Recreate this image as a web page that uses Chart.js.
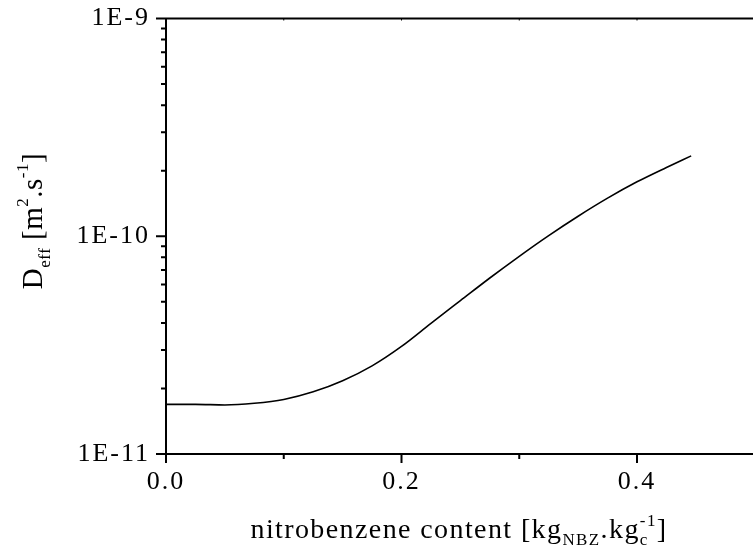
<!DOCTYPE html>
<html>
<head>
<meta charset="utf-8">
<script src="https://cdn.jsdelivr.net/npm/chart.js@4.4.1/dist/chart.umd.min.js"></script>
<style>
  html, body { margin: 0; padding: 0; background: #fff; overflow: hidden; }
  #wrap { width: 770px; height: 555px; }
</style>
</head>
<body>
<div id="wrap"><canvas id="chart" width="770" height="555"></canvas></div>
<script>
// nitrobenzene content [kg_NBZ / kg_c]
const nbzContent = [0, 0.025, 0.05, 0.075, 0.1, 0.125, 0.15, 0.175, 0.2, 0.225,
  0.25, 0.275, 0.3, 0.325, 0.35, 0.375, 0.4, 0.425, 0.446];
// effective diffusivity [m2/s]
const deffValues = [1.69e-11, 1.69e-11, 1.68e-11, 1.71e-11, 1.78e-11, 1.93e-11, 2.17e-11,
  2.54e-11, 3.12e-11, 3.98e-11, 5.06e-11, 6.43e-11, 8.09e-11, 1.007e-10, 1.236e-10,
  1.496e-10, 1.778e-10, 2.07e-10, 2.34e-10];

const xMajorTicks = [0, 0.2, 0.4];
const xMinorTicks = [0.1, 0.3];
const xTickLabels = ['0.0', '0.2', '0.4'];
const yMajorTicks = [1e-11, 1e-10, 1e-9];
const yTickLabels = ['1E-11', '1E-10', '1E-9'];
const yMinorFactors = [2, 3, 4, 5, 6, 7, 8, 9];

const SERIF = '"Liberation Serif", "Times New Roman", serif';

// pieces: [text, sizePx, baselineShift, noAdvance]
function drawPieces(ctx, pieces, x, y) {
  let cx = x;
  pieces.forEach(p => {
    ctx.font = p[1] + 'px ' + SERIF;
    ctx.fillText(p[0], cx, y + p[2]);
    if (!p[3]) cx += ctx.measureText(p[0]).width;
  });
}
function measurePieces(ctx, pieces) {
  let w = 0;
  pieces.forEach(p => {
    ctx.font = p[1] + 'px ' + SERIF;
    if (!p[3]) w += ctx.measureText(p[0]).width;
  });
  return w;
}

const frame = {
  id: 'frame',
  beforeDraw(chart) {
    chart.ctx.letterSpacing = '2px';
  },
  afterDraw(chart) {
    const { ctx, chartArea: a, scales } = chart;
    const xs = scales.x, ys = scales.y;
    ctx.save();
    ctx.strokeStyle = '#000';
    ctx.lineWidth = 2;
    // top border
    ctx.beginPath();
    ctx.moveTo(a.left, a.top);
    ctx.lineTo(a.right, a.top);
    ctx.stroke();

    ctx.beginPath();
    // y ticks, outward
    yMajorTicks.forEach(v => {
      const py = ys.getPixelForValue(v);
      ctx.moveTo(a.left - 10, py); ctx.lineTo(a.left, py);
    });
    yMajorTicks.slice(0, -1).forEach(v => {
      yMinorFactors.forEach(f => {
        const py = ys.getPixelForValue(v * f);
        ctx.moveTo(a.left - 5, py); ctx.lineTo(a.left, py);
      });
    });
    // x ticks, outward
    xMajorTicks.forEach(v => {
      const px = xs.getPixelForValue(v);
      ctx.moveTo(px, a.bottom); ctx.lineTo(px, a.bottom + 9);
    });
    xMinorTicks.forEach(v => {
      const px = xs.getPixelForValue(v);
      ctx.moveTo(px, a.bottom); ctx.lineTo(px, a.bottom + 5);
    });
    ctx.stroke();
    // small top ticks
    ctx.lineWidth = 1;
    ctx.beginPath();
    xMajorTicks.concat(xMinorTicks).forEach(v => {
      const px = xs.getPixelForValue(v);
      ctx.moveTo(px, a.top); ctx.lineTo(px, a.top + 2);
    });
    ctx.stroke();

    // axis titles
    ctx.fillStyle = '#000';
    ctx.textBaseline = 'alphabetic';
    ctx.textAlign = 'left';
    ctx.letterSpacing = '1.4px';
    const xTitle = [
      ['nitrobenzene content [kg', 28, 0],
      ['NBZ', 17, 7],
      ['.kg', 28, 0],
      ['c', 17, 7, true],
      ['-1', 17, -12],
      [']', 28, 0]
    ];
    const xw = measurePieces(ctx, xTitle);
    drawPieces(ctx, xTitle, 459 - xw / 2, 538);

    ctx.letterSpacing = '0.5px';
    const yTitle = [
      ['D', 29, 0],
      ['eff', 17, 8],
      [' [m', 29, 0],
      ['2', 17, -14],
      ['.s', 29, 0],
      ['-1', 17, -14],
      [']', 29, 0]
    ];
    const yw = measurePieces(ctx, yTitle);
    ctx.translate(41.5, 221);
    ctx.rotate(-Math.PI / 2);
    drawPieces(ctx, yTitle, -yw / 2, 0);
    ctx.restore();
  }
};

new Chart(document.getElementById('chart'), {
  type: 'line',
  data: {
    datasets: [{
      data: nbzContent.map((x, i) => ({ x: x, y: deffValues[i] })),
      borderColor: '#000',
      borderWidth: 1.6,
      pointRadius: 0,
      fill: false,
      cubicInterpolationMode: 'monotone'
    }]
  },
  options: {
    responsive: false,
    devicePixelRatio: 1,
    animation: false,
    layout: { padding: { left: 0, top: 18.5, right: 15.25, bottom: 0 } },
    plugins: { legend: { display: false }, tooltip: { enabled: false } },
    scales: {
      x: {
        type: 'linear',
        min: 0,
        max: 0.5,
        afterFit: s => { s.height = 101; s.paddingLeft = 0; s.paddingRight = 0; },
        afterBuildTicks: s => { s.ticks = xMajorTicks.map(v => ({ value: v })); },
        grid: { drawOnChartArea: false, drawTicks: false },
        border: { display: true, color: '#000', width: 2 },
        ticks: {
          color: '#000',
          padding: 13,
          maxRotation: 0,
          font: { family: SERIF, size: 26 },
          callback: (v) => xTickLabels[xMajorTicks.indexOf(v)]
        }
      },
      y: {
        type: 'logarithmic',
        min: 1e-11,
        max: 1e-9,
        afterFit: s => { s.width = 166; s.paddingTop = 0; s.paddingBottom = 0; },
        afterBuildTicks: s => { s.ticks = yMajorTicks.map(v => ({ value: v })); },
        grid: { drawOnChartArea: false, drawTicks: false },
        border: { display: true, color: '#000', width: 2 },
        ticks: {
          color: '#000',
          padding: 16,
          font: { family: SERIF, size: 26 },
          callback: (v) => yTickLabels[yMajorTicks.indexOf(v)]
        }
      }
    }
  },
  plugins: [frame]
});
</script>
</body>
</html>
